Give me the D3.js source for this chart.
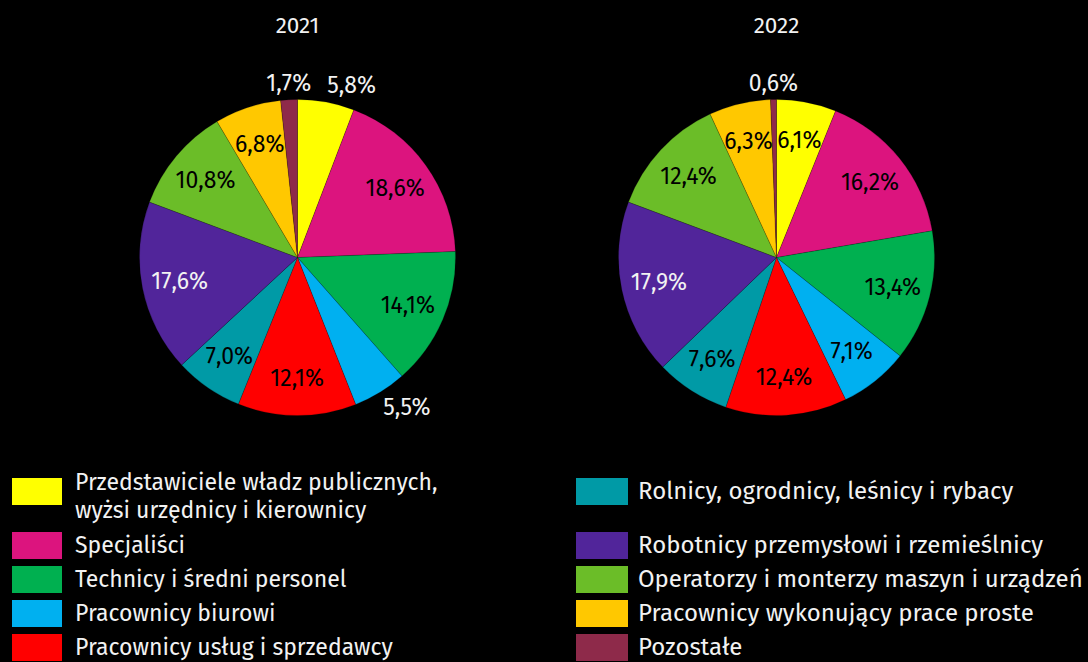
<!DOCTYPE html>
<html>
<head>
<meta charset="utf-8">
<script src="https://cdn.jsdelivr.net/npm/d3@7"></script>
<style>
  body { margin: 0; background: #000; }
  svg { display: block; }
  text { font-family: "Fira Sans", "Open Sans", sans-serif; }
</style>
</head>
<body>
<svg id="stage" width="1088" height="662"></svg>
<script>
var svg = d3.select("#stage");

// dane
var years = ["2021", "2022"];

var categories = [
  "Przedstawiciele władz publicznych,|wyżsi urzędnicy i kierownicy",
  "Specjaliści",
  "Technicy i średni personel",
  "Pracownicy biurowi",
  "Pracownicy usług i sprzedawcy",
  "Rolnicy, ogrodnicy, leśnicy i rybacy",
  "Robotnicy przemysłowi i rzemieślnicy",
  "Operatorzy i monterzy maszyn i urządzeń",
  "Pracownicy wykonujący prace proste",
  "Pozostałe"
];

var values2021 = [5.8, 18.6, 14.1, 5.5, 12.1, 7.0, 17.6, 10.8, 6.8, 1.7];
var values2022 = [6.1, 16.2, 13.4, 7.1, 12.4, 7.6, 17.9, 12.4, 6.3, 0.6];

var colors = ["#ffff00", "#dc147e", "#00b050", "#00b0f0", "#ff0000",
              "#009aa6", "#51259a", "#6bbd28", "#ffc800", "#8e2a4a"];

var series = [values2021, values2022];

////////////////////////////// UTILITIES

var pl = d3.formatLocale({decimal: ",", thousands: " ", grouping: [3], currency: ["", " zł"]});
var fmt = pl.format(".1f");

var radius = 158;
var centersX = [297.5, 776.5];
var centerY = 257.5;

var pie = d3.pie().sort(null).value(function(d){ return d; });
var arc = d3.arc().innerRadius(0).outerRadius(radius);
var insideArc = d3.arc().innerRadius(radius * 0.76).outerRadius(radius * 0.76);
var outsideArc = d3.arc().innerRadius(radius + 6).outerRadius(radius + 6);

var color = d3.scaleOrdinal().domain(d3.range(categories.length)).range(colors);

var labelColor = function(i){
  return d3.lab(colors[i]).l < 40 ? "#f2f2f2" : "#000";
};

////////////////////////////// DRAW PIES

series.forEach(function(values, s){

  var g = svg.append("g")
      .attr("transform", "translate(" + centersX[s] + "," + centerY + ")");

  svg.append("text")
      .attr("x", centersX[s])
      .attr("y", 33)
      .attr("text-anchor", "middle")
      .attr("fill", "#f2f2f2")
      .style("font-size", "22.5px")
      .text(years[s]);

  var slices = pie(values);

  g.selectAll("path")
    .data(slices)
    .enter()
    .append("path")
      .attr("d", arc)
      .attr("fill", function(d, i){ return color(i); })
      .attr("stroke", "rgba(0,0,0,0.35)")
      .attr("stroke-width", 0.5);

  g.selectAll("text.lbl")
    .data(slices)
    .enter()
    .append("text")
      .attr("class", "lbl")
      .attr("dy", "0.35em")
      .style("font-size", "23px")
      .text(function(d){ return fmt(d.data) + "%"; })
      .each(function(d, i){
        var t = d3.select(this);
        var mid = (d.startAngle + d.endAngle) / 2;
        if (d.data < 6) {
          // small slice - label outside the edge
          var p = outsideArc.centroid(d);
          var w = this.getComputedTextLength();
          var sx = Math.sin(mid);
          var ox = Math.abs(sx) < 0.15 ? 0 : (sx > 0 ? w / 2 : -w / 2);
          var oy = -Math.cos(mid) * 11;
          t.attr("x", p[0] + ox).attr("y", p[1] + oy)
           .attr("text-anchor", "middle")
           .attr("fill", "#f2f2f2");
        } else {
          var c = insideArc.centroid(d);
          t.attr("x", c[0]).attr("y", c[1])
           .attr("text-anchor", "middle")
           .attr("fill", labelColor(i));
        }
      });
});

////////////////////////////// LEGEND

var legendCols = [{sx: 12, tx: 75, sw: 50, fs: 23}, {sx: 576, tx: 638, sw: 52, fs: 24}];
var rowTop = function(r){ return r === 0 ? 478 : 532 + (r - 1) * 34; };

var legend = svg.append("g");

categories.forEach(function(name, i){
  var col = legendCols[Math.floor(i / 5)];
  var row = i % 5;
  var top = rowTop(row);
  var lines = name.split("|");

  legend.append("rect")
    .attr("x", col.sx)
    .attr("y", top)
    .attr("width", col.sw)
    .attr("height", 27)
    .attr("fill", color(i));

  var txt = legend.append("text")
    .attr("fill", "#f2f2f2")
    .style("font-size", col.fs + "px");

  var base = lines.length > 1 ? top + 12 : top + 21;
  lines.forEach(function(line, k){
    txt.append("tspan")
      .attr("x", col.tx)
      .attr("y", base + k * 28)
      .text(line);
  });
});
</script>
</body>
</html>
